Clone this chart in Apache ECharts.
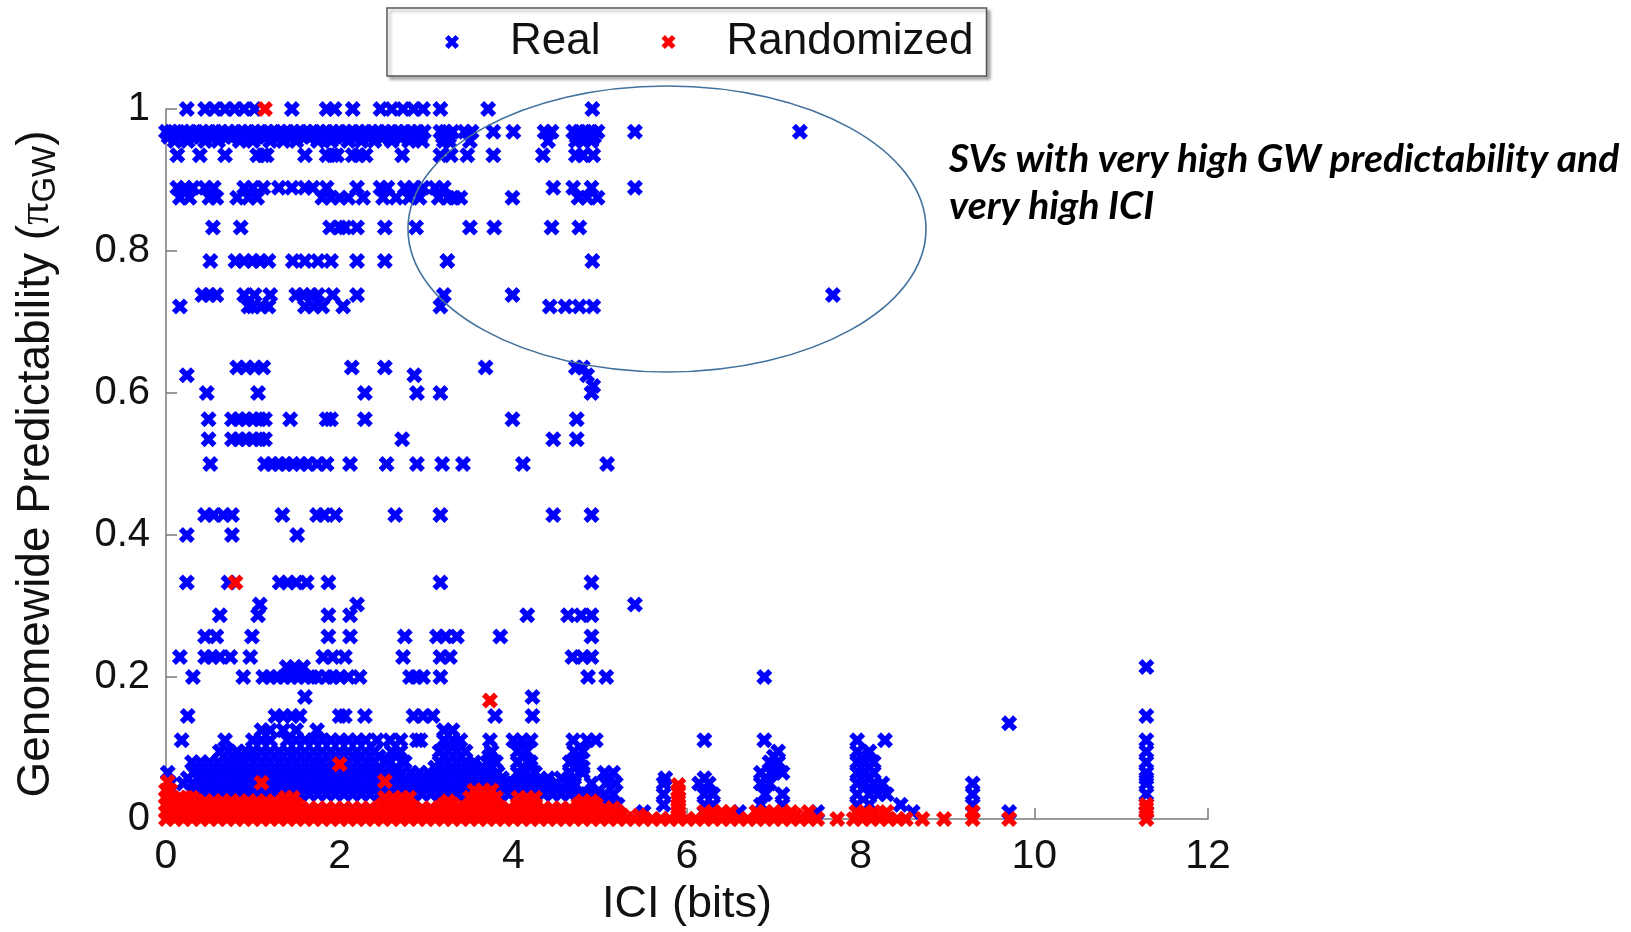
<!DOCTYPE html>
<html>
<head>
<meta charset="utf-8">
<script src="https://cdn.jsdelivr.net/npm/echarts@6/dist/echarts.min.js"></script>
<style>html,body{margin:0;padding:0;background:#fff}#c{width:1631px;height:932px}</style>
</head>
<body>
<div id="c"></div>
<script>
// ---- Data (rows: [y, [x values]]) ----
const xTicks = [0, 2, 4, 6, 8, 10, 12];
const yTicks = [0, 0.2, 0.4, 0.6, 0.8, 1];

const realTopRows = [
  [1.0, [0.24,0.45,0.56,0.68,0.79,0.9,1.02,1.45,1.85,1.94,2.15,2.47,2.6,2.73,2.85,2.96,3.16,3.71,4.91]],
  [0.968, [0,0.06,0.14,0.2,0.28,0.35,0.42,0.5,0.57,0.64,0.72,0.8,0.87,0.95,1.02,1.1,1.17,1.25,1.32,1.4,1.47,1.55,1.62,1.7,1.77,1.85,1.92,2.0,2.07,2.15,2.22,2.3,2.37,2.45,2.52,2.6,2.67,2.75,2.82,2.9,2.97,3.16,3.22,3.3,3.44,3.52,3.77,4.0,4.36,4.44,4.69,4.76,4.83,4.9,4.97,5.4,7.3]],
  [0.961, [0.03,0.1,0.17,0.24,0.31,0.39,0.46,0.53,0.61,0.68,0.76,0.83,0.91,0.98,1.06,1.13,1.21,1.28,1.36,1.43,1.51,1.58,1.66,1.73,1.81,1.88,1.96,2.03,2.11,2.18,2.26,2.33,2.41,2.48,2.56,2.63,2.71,2.78,2.86,2.93,3.19,3.26,4.73,4.86,4.93]],
  [0.955, [0.1,0.25,0.45,0.6,0.85,1.0,1.2,1.35,1.5,1.75,1.9,2.1,2.25,2.4,2.6,2.8,2.95,3.2,3.26,3.5,4.4,4.72,4.8,4.9]],
  [0.935, [0.13,0.39,0.68,1.05,1.12,1.16,1.6,1.85,1.92,1.97,2.15,2.22,2.3,2.72,3.16,3.28,3.47,3.77,4.34,4.72,4.8,4.92]],
  [0.889, [0.13,0.22,0.31,0.45,0.55,0.9,1.0,1.12,1.3,1.45,1.6,1.69,1.85,2.2,2.47,2.55,2.75,2.85,2.96,3.1,3.2,4.46,4.69,4.9,5.4]],
  [0.875, [0.16,0.27,0.5,0.58,0.82,0.95,1.05,1.8,1.9,2.0,2.1,2.27,2.5,2.65,2.8,2.92,3.14,3.25,3.32,3.39,3.99,4.75,4.85,4.97]],
  [0.833, [0.54,0.86,1.89,2.0,2.06,2.2,2.52,2.88,3.5,3.78,4.44,4.76]],
  [0.786, [0.51,0.8,0.9,1.0,1.08,1.18,1.46,1.6,1.75,1.9,2.2,2.52,3.24,4.91]],
  [0.738, [0.42,0.5,0.58,0.9,1.02,1.2,1.5,1.58,1.67,1.75,1.92,2.2,3.2,3.99,7.68]],
  [0.722, [0.16,0.95,1.0,1.1,1.18,1.6,1.7,1.8,2.04,3.16,4.42,4.6,4.76,4.92]]
];

const realMidRows = [
  [0.636, [0.82,0.92,1.02,1.12,2.14,2.52,3.68,4.72,4.8]],
  [0.625, [0.24,2.86,4.85]],
  [0.61, [4.92]],
  [0.6, [0.47,1.06,2.29,2.89,3.16,4.9]],
  [0.563, [0.49,0.76,0.84,0.92,1.0,1.08,1.14,1.43,1.85,1.9,2.29,3.99,4.73]],
  [0.535, [0.49,0.76,0.84,0.92,1.0,1.08,1.14,2.72,4.46,4.73]],
  [0.5, [0.51,1.14,1.22,1.3,1.38,1.46,1.55,1.63,1.74,1.85,2.12,2.54,2.89,3.18,3.42,4.11,5.08]],
  [0.428, [0.45,0.55,0.66,0.76,1.34,1.74,1.82,1.95,2.64,3.16,4.46,4.9]],
  [0.4, [0.24,0.76,1.51]],
  [0.333, [0.24,0.72,1.31,1.4,1.5,1.62,1.87,3.16,4.9]],
  [0.302, [1.08,2.2,5.4]],
  [0.287, [0.62,1.06,1.87,2.12,4.16,4.63,4.78,4.9]],
  [0.257, [0.45,0.58,0.99,1.87,2.12,2.75,3.12,3.22,3.35,3.85,4.9]],
  [0.228, [0.16,0.45,0.53,0.62,0.74,0.97,1.81,1.92,2.06,2.73,3.16,3.27,4.68,4.8,4.9]],
  [0.214, [1.39,1.48,1.58,11.29]],
  [0.2, [0.31,0.89,1.12,1.2,1.28,1.36,1.44,1.52,1.6,1.68,1.74,1.85,1.92,2.0,2.1,2.23,2.81,2.88,2.96,3.16,4.86,5.07,6.89]],
  [0.172, [1.6,4.22]],
  [0.145, [0.25,1.26,1.35,1.45,1.54,2.0,2.06,2.29,2.85,2.96,3.07,3.79,4.22,11.29]],
  [0.135, [9.71]]
];

const realLowRows = [
  [0.125, [1.1,1.2,1.35,1.5,1.74,3.2,3.3]],
  [0.111, [0.18,0.68,1.0,1.1,1.2,1.4,1.5,1.6,1.7,1.8,1.9,2.0,2.1,2.2,2.3,2.43,2.58,2.7,2.89,2.93,3.2,3.3,3.39,3.73,4.0,4.1,4.2,4.69,4.85,4.95,6.2,6.89,7.96,8.28,11.29]],
  [0.095, [0.62,0.72,0.82,0.92,1.0,1.1,1.2,1.3,1.4,1.5,1.6,1.7,1.8,1.9,2.0,2.1,2.2,2.3,2.4,2.6,2.7,3.15,3.25,3.35,3.45,3.75,4.05,4.15,4.7,4.8,7.05,7.96,8.1,11.29]],
  [0.088, [0.67,0.77,0.87,0.97,1.05,1.15,1.25,1.35,1.45,1.55,1.65,1.75,1.85,1.95,2.05,2.15,2.25,2.35,2.45,2.65,3.2,3.3,3.4,3.72,4.1,4.75,7.0,8.0]],
  [0.08, [0.3,0.4,0.5,0.6,0.7,0.8,0.9,1.0,1.1,1.2,1.3,1.4,1.5,1.6,1.7,1.8,1.9,2.0,2.1,2.2,2.3,2.4,2.55,2.75,3.15,3.25,3.35,3.45,3.55,3.7,3.8,4.05,4.2,4.65,4.75,6.95,7.05,7.96,8.05,8.15,11.29]],
  [0.0725, [0.35,0.45,0.55,0.65,0.75,0.85,0.95,1.05,1.15,1.25,1.35,1.45,1.55,1.65,1.75,1.85,1.95,2.05,2.15,2.25,2.35,2.45,2.65,3.1,3.2,3.3,3.4,3.5,3.65,3.75,4.1,4.2,4.7,4.8,7.0,8.0,8.1]],
  [0.065, [0.02,0.32,0.42,0.52,0.62,0.72,0.82,0.92,1.02,1.12,1.22,1.32,1.42,1.52,1.62,1.72,1.82,1.92,2.02,2.12,2.22,2.32,2.42,2.52,2.62,2.72,2.82,2.92,3.02,3.12,3.22,3.32,3.42,3.52,3.62,3.72,3.82,4.05,4.15,4.25,4.65,4.8,5.05,5.15,6.85,7.0,7.1,7.96,8.05,8.15,11.29]],
  [0.0575, [0.25,0.37,0.47,0.57,0.67,0.77,0.87,0.97,1.07,1.17,1.27,1.37,1.47,1.57,1.67,1.77,1.87,1.97,2.07,2.17,2.27,2.37,2.47,2.57,2.67,2.77,2.87,2.97,3.07,3.17,3.27,3.37,3.47,3.57,3.67,3.77,3.87,4.1,4.2,4.4,4.55,4.7,5.1,5.75,6.2,6.9,8.0,8.1,11.29]],
  [0.05, [0.05,0.2,0.3,0.4,0.5,0.6,0.7,0.8,0.9,1.0,1.1,1.2,1.3,1.4,1.5,1.6,1.7,1.8,1.9,2.0,2.1,2.2,2.3,2.4,2.5,2.6,2.7,2.8,2.9,3.0,3.1,3.2,3.3,3.4,3.5,3.6,3.7,3.8,3.9,4.0,4.1,4.2,4.3,4.4,4.5,4.6,4.7,4.9,5.07,5.18,5.73,6.14,6.25,6.85,6.95,7.96,8.05,8.15,8.25,9.29,11.29]],
  [0.035, [0.35,0.45,0.55,0.65,0.75,0.85,0.95,1.05,1.15,1.25,1.35,1.45,1.55,1.65,1.75,1.85,1.95,2.05,2.15,2.25,2.35,2.45,2.55,2.65,2.75,2.85,2.95,3.05,3.15,3.25,3.35,3.45,3.55,3.65,3.75,3.85,3.95,4.05,4.15,4.25,4.35,4.45,4.55,4.65,4.75,4.85,4.95,5.05,5.15,5.73,6.2,6.3,6.9,7.1,7.96,8.1,8.2,8.3,9.29,11.29]],
  [0.02, [5.1,5.2,5.73,6.2,6.3,6.85,7.1,7.96,8.1,8.46,9.29,11.29]],
  [0.01, [5.5,6.6,7.5,8.6,9.71,11.29]]
];

const randRows = [
  [0.0, [0,0.1,0.2,0.3,0.4,0.5,0.6,0.7,0.8,0.9,1.0,1.1,1.2,1.3,1.4,1.5,1.6,1.7,1.8,1.9,2.0,2.1,2.2,2.3,2.4,2.5,2.6,2.7,2.8,2.9,3.0,3.1,3.2,3.3,3.4,3.5,3.6,3.7,3.8,3.9,4.0,4.1,4.2,4.3,4.4,4.5,4.6,4.7,4.8,4.9,5.0,5.1,5.2,5.3,5.4,5.5,5.6,5.7,5.8,5.9,6.0,6.1,6.2,6.3,6.4,6.5,6.6,6.7,6.8,6.9,7.0,7.1,7.2,7.3,7.4,7.5,7.73,7.92,8.02,8.12,8.22,8.32,8.42,8.52,8.71,8.96,9.29,9.71,11.29]],
  [0.005, [0.05,0.15,0.25,0.35,0.45,0.55,0.65,0.75,0.85,0.95,1.05,1.15,1.25,1.35,1.45,1.55,1.65,1.75,1.85,1.95,2.05,2.15,2.25,2.35,2.45,2.55,2.65,2.75,2.85,2.95,3.05,3.15,3.25,3.35,3.45,3.55,3.65,3.75,3.85,3.95,4.05,4.15,4.25,4.35,4.45,4.55,4.65,4.75,4.85,4.95,5.05,5.15,5.25,5.45,5.9,6.25,6.45,6.85,7.05,7.25,8.0,8.2]],
  [0.01, [0,0.1,0.2,0.3,0.4,0.5,0.6,0.7,0.8,0.9,1.0,1.1,1.2,1.3,1.4,1.5,1.6,1.7,1.8,1.9,2.0,2.1,2.2,2.3,2.4,2.5,2.6,2.7,2.8,2.9,3.0,3.1,3.2,3.3,3.4,3.5,3.6,3.7,3.8,3.9,4.0,4.1,4.2,4.3,4.4,4.5,4.6,4.7,4.8,4.9,5.0,5.1,5.2,5.9,6.2,6.3,6.4,6.5,6.8,6.9,7.0,7.1,7.2,7.4,7.95,8.05,8.15,8.3,9.29,11.29]],
  [0.015, [0.05,0.15,0.25,0.35,0.45,0.55,0.65,0.75,0.85,0.95,1.05,1.15,1.25,1.35,1.45,1.55,1.65,1.75,1.85,1.95,2.05,2.15,2.25,2.35,2.45,2.55,2.65,2.75,2.85,2.95,3.05,3.15,3.25,3.35,3.45,3.55,3.65,3.75,3.85,3.95,4.05,4.15,4.25,4.35,4.45,4.55,4.65,4.75,4.85,4.95,5.05,5.15,5.9,11.29]],
  [0.02, [0,0.1,0.2,0.3,0.4,0.5,0.6,0.7,0.8,0.9,1.0,1.1,1.2,1.3,1.4,1.5,2.5,2.6,2.7,2.8,3.2,3.3,3.5,3.6,3.7,3.8,4.05,4.15,4.25,4.75,4.85,4.95,5.9,11.29]],
  [0.025, [0.05,0.15,0.25,0.35,0.45,0.55,0.65,0.75,0.85,0.95,1.05,1.15,1.25,1.35,1.45,2.55,2.65,2.75,3.25,3.55,3.65,3.75,4.1,4.2,4.8,4.9,5.9]],
  [0.03, [0,0.08,0.16,0.24,0.3,1.38,1.46,2.52,2.62,2.72,2.8,3.5,3.6,3.7,3.8,4.06,4.16,4.25,5.9]],
  [0.04, [0,0.05,3.55,3.65,3.75,5.9]]
];
const randSingles = [[1.14,1.0],[0.8,0.333],[3.73,0.167],[2.0,0.077],[1.1,0.051],[2.52,0.053],[5.9,0.048],[0.02,0.052]];

function rowsToPoints(rows) {
  const out = [];
  rows.forEach(function (r) { r[1].forEach(function (x) { out.push([x, r[0]]); }); });
  return out;
}
const realData = rowsToPoints(realTopRows).concat(rowsToPoints(realMidRows), rowsToPoints(realLowRows));
const randData = rowsToPoints(randRows).concat(randSingles);

const X_SYMBOL = 'path://M0,5 L5,0 L10,5 L15,0 L20,5 L15,10 L20,15 L15,20 L10,15 L5,20 L0,15 L5,10 Z';
const FONT = 'Liberation Sans, Arial, Helvetica, sans-serif';

const chart = echarts.init(document.getElementById('c'), null, {renderer: 'canvas'});
chart.setOption({
  animation: false,
  backgroundColor: '#ffffff',
  grid: {left: 166, right: 423, top: 109, bottom: 110},
  legend: {
    left: 387, top: 8,
    padding: [12, 13, 12, 58],
    icon: X_SYMBOL,
    itemWidth: 14, itemHeight: 14, itemGap: 61,
    borderColor: '#555', borderWidth: 1.5,
    backgroundColor: '#fff',
    shadowColor: 'rgba(0,0,0,0.3)', shadowBlur: 3, shadowOffsetX: 3, shadowOffsetY: 3,
    itemStyle: {opacity: 1},
    textStyle: {fontFamily: FONT, fontSize: 44, color: '#111', padding: [0, 0, 0, 46]},
    data: ['Real', 'Randomized']
  },
  xAxis: {
    type: 'value', min: 0, max: 12, interval: 2,
    name: 'ICI (bits)', nameLocation: 'middle', nameGap: 63,
    nameTextStyle: {fontFamily: FONT, fontSize: 45, color: '#111'},
    axisLine: {show: true, lineStyle: {color: '#7a7a7a', width: 1.5}},
    axisTick: {show: true, inside: true, length: 11, lineStyle: {color: '#7a7a7a', width: 1.5}},
    axisLabel: {fontFamily: FONT, fontSize: 41, color: '#111', margin: 17,
      formatter: function (v) { return xTicks.indexOf(v) >= 0 ? String(v) : ''; }},
    splitLine: {show: false}
  },
  yAxis: {
    type: 'value', min: 0, max: 1, interval: 0.2,
    name: '{a|Genomewide Predictability (}{b|π}{c|GW}{a|)}',
    nameLocation: 'middle', nameGap: 104,
    nameTextStyle: {
      fontFamily: FONT, fontSize: 46, color: '#111',
      rich: {
        a: {fontFamily: FONT, fontSize: 46, color: '#111'},
        b: {fontFamily: 'Liberation Serif, DejaVu Serif, serif', fontSize: 44, color: '#111'},
        c: {fontFamily: FONT, fontSize: 33, color: '#111', padding: [18, 0, 0, 0]}
      }
    },
    axisLine: {show: true, lineStyle: {color: '#7a7a7a', width: 1.5}},
    axisTick: {show: true, inside: true, length: 11, lineStyle: {color: '#7a7a7a', width: 1.5}},
    axisLabel: {fontFamily: FONT, fontSize: 40, color: '#111', margin: 16,
      formatter: function (v) {
        const t = yTicks.find(function (k) { return Math.abs(k - v) < 1e-9; });
        return t === undefined ? '' : String(t);
      }},
    splitLine: {show: false}
  },
  series: [
    {name: 'Real', type: 'scatter', symbol: X_SYMBOL, symbolSize: 16,
      itemStyle: {color: '#0000ff', opacity: 1}, data: realData, clip: false},
    {name: 'Randomized', type: 'scatter', symbol: X_SYMBOL, symbolSize: 16,
      itemStyle: {color: '#ff0000', opacity: 1}, data: randData, clip: false}
  ],
  graphic: [
    {type: 'ellipse', shape: {cx: 667, cy: 229, rx: 259, ry: 143},
      style: {fill: 'none', stroke: '#41719c', lineWidth: 1.6}, z: 10},
    {type: 'text', left: 949, top: 136,
      style: {text: 'SVs with very high GW predictability and\nvery high ICI',
        font: 'italic bold 39px Lato, "Open Sans", sans-serif', lineHeight: 47, fill: '#000'}, z: 10}
  ]
});
</script>
</body>
</html>
